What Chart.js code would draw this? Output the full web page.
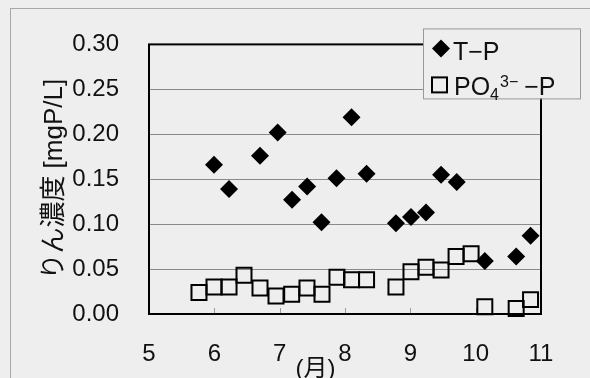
<!DOCTYPE html>
<html>
<head>
<meta charset="utf-8">
<script src="https://cdn.jsdelivr.net/npm/chart.js@4/dist/chart.umd.min.js"></script>
<style>
  html, body { margin: 0; padding: 0; background: #eeeeee; }
  #wrap { width: 590px; height: 378px; position: relative; }
</style>
</head>
<body>
<div id="wrap"><canvas id="pChart"></canvas></div>
<script>
// sampling dates as fractional months (5 = 1 May ... 11 = 1 Nov)
const tpMonths = [5.995, 6.225, 6.699, 6.97, 7.19, 7.42, 7.64, 7.87, 8.10, 8.33, 8.78, 9.01, 9.24, 9.47, 9.71, 10.14, 10.62, 10.84];
const tpValues = [0.166, 0.139, 0.176, 0.202, 0.127, 0.142, 0.102, 0.151, 0.219, 0.156, 0.101, 0.108, 0.113, 0.155, 0.147, 0.059, 0.064, 0.087];

const po4Months = [5.765, 5.995, 6.225, 6.454, 6.699, 6.944, 7.184, 7.418, 7.648, 7.877, 8.10, 8.33, 8.78, 9.01, 9.24, 9.47, 9.70, 9.93, 10.14, 10.62, 10.84];
const po4Values = [0.024, 0.030, 0.030, 0.043, 0.029, 0.020, 0.022, 0.029, 0.022, 0.041, 0.038, 0.038, 0.030, 0.047, 0.052, 0.049, 0.064, 0.067, 0.008, 0.006, 0.016];

const seriesLabels = ['T−P', 'PO4 3− −P'];
const yTicks = [0, 0.05, 0.10, 0.15, 0.20, 0.25, 0.30];
const xTicks = [5, 6, 7, 8, 9, 10, 11];
const yTitle = 'りん濃度 [mgP/L]';
const xTitle = '(月)';

const FONT = "'Liberation Sans', Arial, 'Noto Sans CJK JP', sans-serif";
const BG = '#eeeeee';

const toPoints = (xs, ys) => xs.map((x, i) => ({ x: x, y: ys[i] }));

// frame, inner ticks, x title, legend, outer border
const decorations = {
    id: 'decorations',
    beforeDraw(chart) {
        const c = chart.ctx;
        c.save();
        c.fillStyle = BG;
        c.fillRect(0, 0, chart.width, chart.height);
        c.strokeStyle = '#a8a8a8';
        c.lineWidth = 1;
        c.strokeRect(10.5, 8.5, chart.width + 20, chart.height + 20);
        c.restore();
    },
    beforeDatasetsDraw(chart) {
        const c = chart.ctx;
        const a = chart.chartArea;
        const xs = chart.scales.x;
        c.save();
        c.strokeStyle = '#999';
        c.lineWidth = 1;
        xTicks.slice(1, -1).forEach(v => {
            const px = Math.round(xs.getPixelForValue(v)) + 0.5;
            c.beginPath();
            c.moveTo(px, a.bottom - 6);
            c.lineTo(px, a.bottom - 1);
            c.stroke();
        });
        c.strokeStyle = '#000';
        c.lineWidth = 2;
        c.strokeRect(a.left, a.top, a.right - a.left, a.bottom - a.top);
        c.restore();
    },
    afterDraw(chart) {
        const c = chart.ctx;
        const a = chart.chartArea;
        const xs = chart.scales.x;
        c.save();
        c.fillStyle = '#111';
        c.font = '24px ' + FONT;
        c.textAlign = 'center';
        c.textBaseline = 'middle';
        c.fillText(xTitle, xs.getPixelForValue(7.55), 369);

        // legend
        const L = a.right - 118, T = a.top - 16;
        c.fillStyle = BG;
        c.fillRect(L, T, 157, 70);
        c.strokeStyle = '#999';
        c.lineWidth = 1;
        c.strokeRect(L + 0.5, T + 0.5, 157, 70);

        c.fillStyle = '#000';
        c.beginPath();
        const dx = L + 18, dy = T + 20, r = 9;
        c.moveTo(dx, dy - r); c.lineTo(dx + r, dy); c.lineTo(dx, dy + r); c.lineTo(dx - r, dy);
        c.closePath();
        c.fill();

        c.strokeStyle = '#000';
        c.lineWidth = 2;
        c.strokeRect(L + 9, T + 49, 15, 15);

        c.fillStyle = '#111';
        c.textAlign = 'left';
        c.textBaseline = 'alphabetic';
        c.font = '25px ' + FONT;
        c.fillText(seriesLabels[0], L + 30, T + 32);

        let x = L + 31;
        const base = T + 67;
        c.fillText('PO', x, base);
        x += c.measureText('PO').width;
        c.font = '16px ' + FONT;
        c.fillText('4', x, base + 5);
        x += c.measureText('4').width + 1;
        c.fillText('3−', x, base - 8);
        x += c.measureText('3−').width + 6;
        c.font = '25px ' + FONT;
        c.fillText('−P', x, base);
        c.restore();
    }
};

document.addEventListener("DOMContentLoaded", () => {
    const ctx = document.getElementById("pChart").getContext("2d");

    new Chart(ctx, {
        type: 'scatter',
        data: {
            datasets: [{
                label: seriesLabels[0],
                data: toPoints(tpMonths, tpValues),
                pointStyle: 'rectRot',
                pointRadius: 9,
                pointHoverRadius: 9,
                backgroundColor: '#000',
                borderColor: '#000',
                borderWidth: 0,
                clip: false
            }, {
                label: seriesLabels[1],
                data: toPoints(po4Months, po4Values),
                pointStyle: 'rect',
                pointRadius: 10.6,
                pointHoverRadius: 10.6,
                backgroundColor: 'rgba(0,0,0,0)',
                borderColor: '#000',
                borderWidth: 2,
                clip: false
            }]
        },
        options: {
            responsive: true,
            maintainAspectRatio: false,
            devicePixelRatio: 1,
            animation: false,
            layout: { padding: { left: 0, top: 44, right: 49, bottom: 0 } },
            plugins: {
                legend: { display: false },
                tooltip: { enabled: false }
            },
            scales: {
                x: {
                    type: 'linear',
                    min: xTicks[0],
                    max: xTicks[xTicks.length - 1],
                    afterBuildTicks: s => { s.ticks = xTicks.map(v => ({ value: v })); },
                    afterFit: s => { s.height = 64; },
                    grid: { display: false, drawTicks: false },
                    border: { display: false },
                    ticks: {
                        color: '#111',
                        padding: 26,
                        font: { family: FONT, size: 24 },
                        maxRotation: 0
                    }
                },
                y: {
                    min: yTicks[0],
                    max: yTicks[yTicks.length - 1],
                    afterBuildTicks: s => { s.ticks = yTicks.map(v => ({ value: v })); },
                    afterFit: s => { s.width = 149; },
                    grid: { color: '#8a8a8a', lineWidth: 1, drawTicks: false },
                    border: { display: false },
                    ticks: {
                        color: '#111',
                        padding: 30,
                        font: { family: FONT, size: 24 },
                        callback: v => v.toFixed(2)
                    },
                    title: {
                        display: true,
                        text: yTitle,
                        color: '#111',
                        font: { family: FONT, size: 26 },
                        padding: { top: 39, bottom: 0 }
                    }
                }
            }
        },
        plugins: [decorations]
    });
});
</script>
</body>
</html>
